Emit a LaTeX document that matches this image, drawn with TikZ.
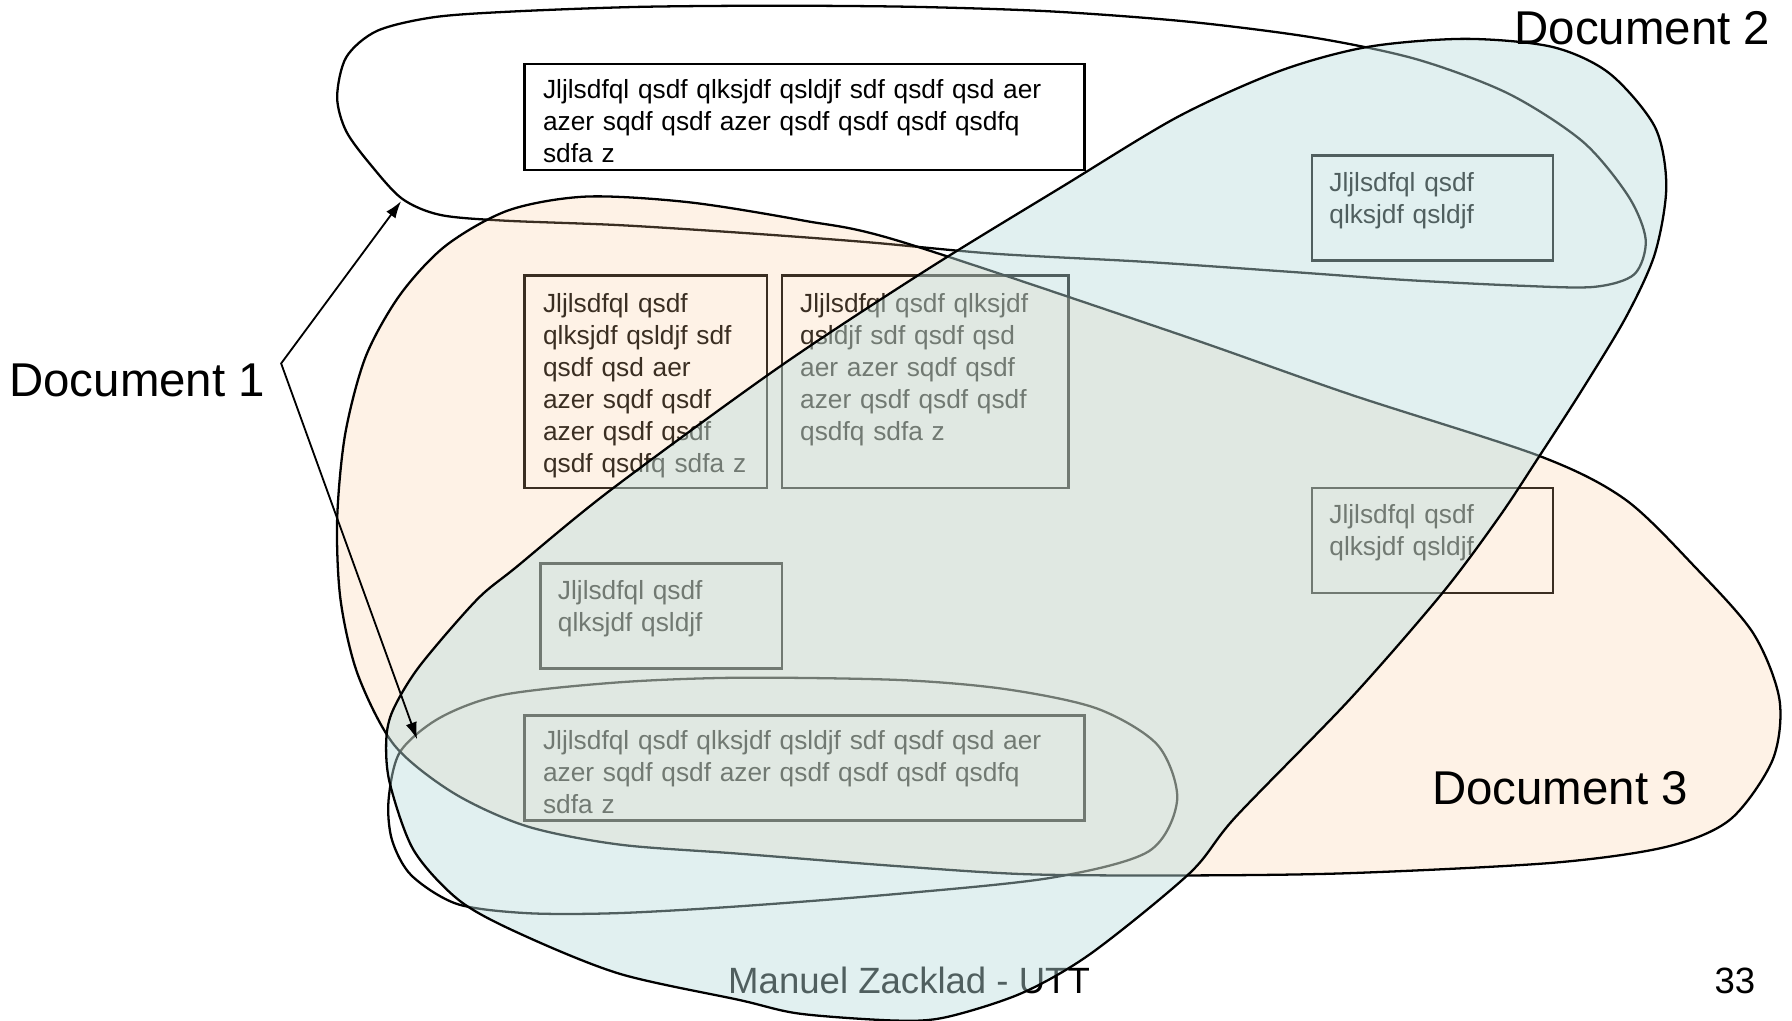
\documentclass[tikz,border=0pt]{standalone}
\usepackage{fontspec}
\setmainfont{Liberation Sans}
\usetikzlibrary{arrows.meta}
\definecolor{peachc}{RGB}{252,200,148}
\definecolor{bluec}{RGB}{186,221,221}
\begin{document}
\begin{tikzpicture}[x=1pt,y=-1pt,
  outl/.style={line width=2pt, black},
  boxst/.style={draw, line width=2pt, inner sep=0pt, anchor=north west},
  btext/.style={anchor=north west, inner sep=0pt, align=left,
    font=\fontsize{23}{28}\selectfont, text width=#1},
  lab/.style={anchor=base west, inner sep=0pt, font=\fontsize{41.5}{48}\selectfont},
  foot/.style={anchor=base west, inner sep=0pt, font=\fontsize{32}{38}\selectfont},
  arr/.style={line width=1.6pt, {Latex[length=15pt,width=10pt]}-{Latex[length=15pt,width=10pt]}}
]
\fill[white] (0,0) rectangle (1568,893);
\useasboundingbox (0,0) rectangle (1568,893);

% Document 1: upper loop
\draw[outl] plot[smooth cycle, tension=0.5] coordinates {
  (295,85) (303,50) (330,27) (380,15) (450,10) (560,6) (680,5) (800,6)
  (920,10) (1040,19) (1150,33) (1240,52) (1320,82) (1385,124) (1425,172)
  (1440,210) (1430,240) (1395,251) (1330,250) (1230,245) (1131,238)
  (1000,229) (870,222) (760,212) (653,204) (542,197) (440,193) (385,188)
  (352,174) (325,145) (303,115)};
% Document 1: lower loop
\draw[outl] plot[smooth cycle, tension=0.5] coordinates {
  (340,700) (350,658) (385,628) (440,608) (542,597) (647,593) (787,595)
  (880,603) (960,620) (1013,652) (1030,700) (1005,745) (920,768) (787,782)
  (647,793) (540,799) (461,799) (400,791) (360,766) (343,735)};

% boxes
\node[boxst, minimum width=490pt, minimum height=93pt] (tb) at (458,55) {};
\node[btext=480pt] (tbt) at ([shift={(17,11)}]tb.north west)
  {\rule{0pt}{20pt}Jljlsdfql qsdf qlksjdf qsldjf sdf qsdf qsd aer\\azer sqdf qsdf azer qsdf qsdf qsdf qsdfq\\sdfa z};
\node[boxst, minimum width=212pt, minimum height=186pt] (lb) at (458,240) {};
\node[btext=300pt] (lbt) at ([shift={(17,13)}]lb.north west)
  {\rule{0pt}{20pt}Jljlsdfql qsdf\\qlksjdf qsldjf sdf\\qsdf qsd aer\\azer sqdf qsdf\\azer qsdf qsdf\\qsdf qsdfq sdfa z};
\node[boxst, minimum width=251pt, minimum height=186pt] (mb) at (683,240) {};
\node[btext=300pt] (mbt) at ([shift={(17,13)}]mb.north west)
  {\rule{0pt}{20pt}Jljlsdfql qsdf qlksjdf\\qsldjf sdf qsdf qsd\\aer azer sqdf qsdf\\azer qsdf qsdf qsdf\\qsdfq sdfa z};
\node[boxst, minimum width=211pt, minimum height=92pt] (rt) at (1147,135) {};
\node[btext=300pt] (rtt) at ([shift={(16,12)}]rt.north west)
  {\rule{0pt}{20pt}Jljlsdfql qsdf\\qlksjdf qsldjf};
\node[boxst, minimum width=211pt, minimum height=92pt] (rm) at (1147,426) {};
\node[btext=300pt] (rmt) at ([shift={(16,12)}]rm.north west)
  {\rule{0pt}{20pt}Jljlsdfql qsdf\\qlksjdf qsldjf};
\node[boxst, minimum width=211pt, minimum height=92pt] (sb) at (472,492) {};
\node[btext=300pt] (sbt) at ([shift={(16,12)}]sb.north west)
  {\rule{0pt}{20pt}Jljlsdfql qsdf\\qlksjdf qsldjf};
\node[boxst, minimum width=490pt, minimum height=92pt] (bb) at (458,625) {};
\node[btext=480pt] (bbt) at ([shift={(17,11)}]bb.north west)
  {\rule{0pt}{20pt}Jljlsdfql qsdf qlksjdf qsldjf sdf qsdf qsd aer\\azer sqdf qsdf azer qsdf qsdf qsdf qsdfq\\sdfa z};

% footer
\node[foot] (ft) at (637,869) {Manuel Zacklad - UTT};

% Document 3 (peach)
\draw[outl, fill=peachc, fill opacity=0.23] plot[smooth cycle, tension=0.5] coordinates {
  (513,172) (603,177) (703,193) (787,211) (1030,292) (1181,345) (1347,399)
  (1422,437) (1483,496) (1534,554) (1557,612) (1551,665) (1514,717) (1458,741)
  (1358,755) (1181,764) (1041,766) (900,765) (787,758) (647,747) (542,739)
  (461,723) (397,694) (345,652) (313,590) (298,525) (295,455) (302,380)
  (320,312) (350,258) (390,215) (445,184)};

% Document 2 (blue)
\draw[outl, fill=bluec, fill opacity=0.43] plot[smooth cycle, tension=0.5] coordinates {
  (1197,41) (1282,34) (1358,41) (1408,64) (1448,111) (1458,163) (1448,222)
  (1423,277) (1385,340) (1347,399) (1312,452) (1262,519) (1181,612) (1081,715)
  (1041,764) (955,834) (894,869) (828,890) (784,893) (700,887) (647,875)
  (542,852) (455,817) (402,788) (362,744) (341,685) (338,647) (344,621)
  (367,583) (417,525) (452,496) (534,429) (682,321) (811,236) (930,163)
  (1031,102) (1120,62)};

% labels
\node[lab] (d1) at (8,347) {Document 1};
\node[lab] (d2) at (1325,39) {Document 2};
\node[lab] (d3) at (1253,704) {Document 3};
\node[foot] (pg) at (1500,869) {33};

% arrows from Document 1
\coordinate (apex) at (246,318);
\coordinate (tipA) at (351,176);
\coordinate (tipB) at (365,647);
\draw[arr] (tipA) -- (apex) -- (tipB);
\end{tikzpicture}
\end{document}
